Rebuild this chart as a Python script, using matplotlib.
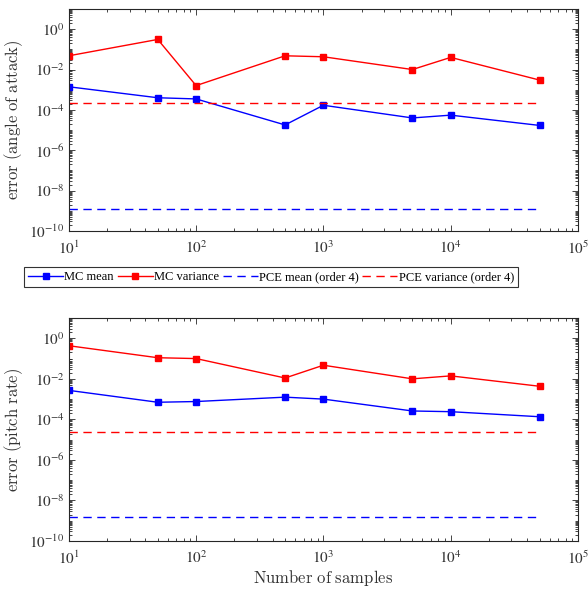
import math
import matplotlib
matplotlib.use("Agg")
import matplotlib.pyplot as plt
from matplotlib.ticker import LogLocator, FixedLocator, NullFormatter, FuncFormatter

# sample sizes used for the Monte Carlo runs
n_samples = [10, 50, 100, 500, 1000, 5000, 10000, 50000]

# angle of attack errors
aoa_mc_mean = [1.4e-3, 4.0e-4, 3.5e-4, 1.8e-5, 1.7e-4, 4.0e-5, 5.5e-5, 1.7e-5]
aoa_mc_var = [4.8e-2, 3.1e-1, 1.6e-3, 4.8e-2, 4.3e-2, 1.0e-2, 4.0e-2, 3.0e-3]
aoa_pce_mean = 1.3e-9
aoa_pce_var = 2.3e-4

# pitch rate errors
q_mc_mean = [2.7e-3, 7.0e-4, 7.6e-4, 1.25e-3, 1.0e-3, 2.6e-4, 2.4e-4, 1.35e-4]
q_mc_var = [4.3e-1, 1.1e-1, 1.0e-1, 1.1e-2, 4.7e-2, 1.0e-2, 1.4e-2, 4.3e-3]
q_pce_mean = 1.45e-9
q_pce_var = 2.5e-5

series_labels = ["MC mean", "MC variance", "PCE mean (order 4)", "PCE variance (order 4)"]
y_labels = ["error (angle of attack)", "error (pitch rate)"]
x_label = "Number of samples"

plt.rcParams["font.family"] = ["Liberation Serif", "DejaVu Serif"]
plt.rcParams["mathtext.fontset"] = "stix"

BLUE = (0.0, 0.0, 1.0)
RED = (1.0, 0.0, 0.0)
EDGE = (0.15, 0.15, 0.15)
TEXT = (0.2, 0.2, 0.2)


def pow10(v, _pos):
    return r"$10^{%d}$" % int(round(math.log10(v)))


def cm_text(s):
    return r"$\mathrm{%s}$" % s.replace(" ", r"\ ")


def draw_panel(ax, mc_mean, mc_var, pce_mean, pce_var, ylabel):
    h1, = ax.plot(n_samples, mc_mean, "-s", color=BLUE, lw=1.0, ms=5)
    h2, = ax.plot(n_samples, mc_var, "-s", color=RED, lw=1.0, ms=5)
    h3, = ax.plot([n_samples[0], n_samples[-1]], [pce_mean] * 2, "--", color=BLUE, lw=1.0, dashes=(6, 4))
    h4, = ax.plot([n_samples[0], n_samples[-1]], [pce_var] * 2, "--", color=RED, lw=1.0, dashes=(6, 4))
    ax.set_xscale("log")
    ax.set_yscale("log")
    ax.set_xlim(10, 1e5)
    ax.set_ylim(1e-10, 1e1)
    ax.yaxis.set_major_locator(FixedLocator([10.0 ** e for e in range(-10, 1, 2)]))
    ax.yaxis.set_minor_locator(LogLocator(base=10, subs=[1, 2, 3, 4, 5, 6, 7, 8, 9], numticks=30))
    ax.yaxis.set_minor_formatter(NullFormatter())
    ax.xaxis.set_major_locator(FixedLocator([10.0 ** e for e in range(1, 6)]))
    ax.xaxis.set_minor_locator(LogLocator(base=10, subs=[2, 3, 4, 5, 6, 7, 8, 9], numticks=30))
    ax.xaxis.set_minor_formatter(NullFormatter())
    ax.xaxis.set_major_formatter(FuncFormatter(pow10))
    ax.yaxis.set_major_formatter(FuncFormatter(pow10))
    ax.tick_params(which="both", direction="in", top=True, right=True, colors=EDGE,
                   labelcolor=TEXT, labelsize=11, width=0.6)
    ax.tick_params(which="major", length=4)
    ax.tick_params(which="minor", length=2)
    ax.tick_params(axis="x", pad=6)
    ax.tick_params(axis="y", pad=3)
    for s in ax.spines.values():
        s.set_color(EDGE)
        s.set_linewidth(0.8)
    ax.set_ylabel(cm_text(ylabel), fontsize=12, math_fontfamily="cm", color=TEXT, labelpad=3)
    return [h1, h2, h3, h4]


fig = plt.figure(figsize=(5.88, 5.92), dpi=100)
ax_top = fig.add_axes([0.117, 0.6098, 0.866, 0.375])
ax_bot = fig.add_axes([0.117, 0.0861, 0.866, 0.3767])

handles = draw_panel(ax_top, aoa_mc_mean, aoa_mc_var, aoa_pce_mean, aoa_pce_var, y_labels[0])
draw_panel(ax_bot, q_mc_mean, q_mc_var, q_pce_mean, q_pce_var, y_labels[1])
ax_bot.set_xlabel(cm_text(x_label), fontsize=12, math_fontfamily="cm", color=TEXT, labelpad=1)

leg = fig.legend(handles, series_labels, loc="center", bbox_to_anchor=(271 / 588, 1 - 277 / 592),
                 ncol=4, fontsize=9, frameon=True, fancybox=False, handlelength=2.8,
                 handletextpad=0.1, columnspacing=0.3, borderpad=0.35, borderaxespad=0)
leg.get_frame().set_edgecolor("black")
leg.get_frame().set_linewidth(0.8)

fig.savefig("out.png", dpi=100)
